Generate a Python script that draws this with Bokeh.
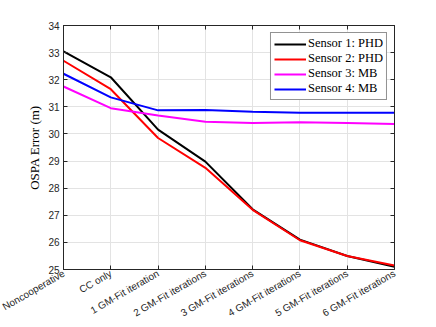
import math
from bokeh.plotting import figure
from bokeh.models import Range1d, FixedTicker, LinearAxis, Legend, LegendItem
from bokeh.embed import file_html
from bokeh.resources import INLINE

categories = ["Noncooperative", "CC only", "1 GM-Fit iteration", "2 GM-Fit iterations",
              "3 GM-Fit iterations", "4 GM-Fit iterations", "5 GM-Fit iterations", "6 GM-Fit iterations"]
sensor1_phd = [33.05, 32.09, 30.16, 28.98, 27.22, 26.10, 25.50, 25.10]
sensor2_phd = [32.70, 31.65, 29.85, 28.75, 27.20, 26.08, 25.50, 25.15]
sensor3_mb = [31.75, 30.95, 30.68, 30.45, 30.40, 30.43, 30.40, 30.37]
sensor4_mb = [32.22, 31.35, 30.87, 30.88, 30.82, 30.78, 30.78, 30.78]
series_names = ["Sensor 1: PHD", "Sensor 2: PHD", "Sensor 3: MB", "Sensor 4: MB"]
series_colors = ["#000000", "#FF0000", "#FF00FF", "#0000FF"]
y_ticks = [25, 26, 27, 28, 29, 30, 31, 32, 33, 34]
y_min, y_max = 25, 34

xs = list(range(len(categories)))

p = figure(width=436, height=327, output_backend="svg", toolbar_location=None,
           x_range=Range1d(0, len(categories) - 1), y_range=Range1d(y_min, y_max),
           min_border_left=63, min_border_right=42, min_border_top=25, min_border_bottom=58)
p.background_fill_color = "white"
p.border_fill_color = "white"
p.outline_line_color = "#262626"
p.outline_line_width = 1

axis_color = "#262626"
font_sans = "Liberation Sans"
font_serif = "Liberation Serif"

p.xaxis.ticker = FixedTicker(ticks=xs)
p.xaxis.major_label_overrides = {i: c for i, c in enumerate(categories)}
p.xaxis.major_label_orientation = math.pi / 6
p.yaxis.ticker = FixedTicker(ticks=y_ticks)
p.yaxis.axis_label = "OSPA Error (m)"
p.yaxis.axis_label_text_font = font_serif
p.yaxis.axis_label_text_font_style = "normal"
p.yaxis.axis_label_text_font_size = "13px"
p.yaxis.axis_label_text_color = "#000000"
p.yaxis.axis_label_standoff = 3

for ax in [p.xaxis[0], p.yaxis[0]]:
    ax.axis_line_color = axis_color
    ax.major_tick_line_color = axis_color
    ax.major_tick_in = 4
    ax.major_tick_out = 0
    ax.minor_tick_line_color = None
    ax.major_label_text_font = font_sans
    ax.major_label_text_font_size = "10px"
    ax.major_label_text_color = axis_color
    ax.major_label_standoff = 4
p.xaxis.major_label_standoff = 3

top_ax = LinearAxis(ticker=FixedTicker(ticks=xs), major_label_text_font_size="1px",
                    major_label_text_color=None,
                    major_tick_in=4, major_tick_out=0, minor_tick_line_color=None,
                    axis_line_color=axis_color, major_tick_line_color=axis_color)
right_ax = LinearAxis(ticker=FixedTicker(ticks=y_ticks), major_label_text_font_size="1px",
                      major_label_text_color=None,
                      major_tick_in=4, major_tick_out=0, minor_tick_line_color=None,
                      axis_line_color=axis_color, major_tick_line_color=axis_color)
p.add_layout(top_ax, "above")
p.add_layout(right_ax, "right")

p.grid.grid_line_color = "#e3e3e3"
p.grid.grid_line_width = 1
p.xgrid.ticker = FixedTicker(ticks=xs)
p.ygrid.ticker = FixedTicker(ticks=y_ticks)

items = []
for name, vals, col in zip(series_names, [sensor1_phd, sensor2_phd, sensor3_mb, sensor4_mb], series_colors):
    r = p.line(xs, vals, line_color=col, line_width=2)
    items.append(LegendItem(label=name, renderers=[r]))

legend = Legend(items=items, location="top_right")
legend.label_text_font = font_serif
legend.label_text_font_size = "12.5px"
legend.label_text_color = "#000000"
legend.border_line_color = "#262626"
legend.border_line_width = 1
legend.glyph_width = 32
legend.glyph_height = 14
legend.label_height = 14
legend.label_standoff = 2
legend.spacing = 0
legend.padding = 3
legend.margin = 7
legend.background_fill_alpha = 1
p.add_layout(legend)

open("out.html", "w").write(file_html(p, INLINE))
